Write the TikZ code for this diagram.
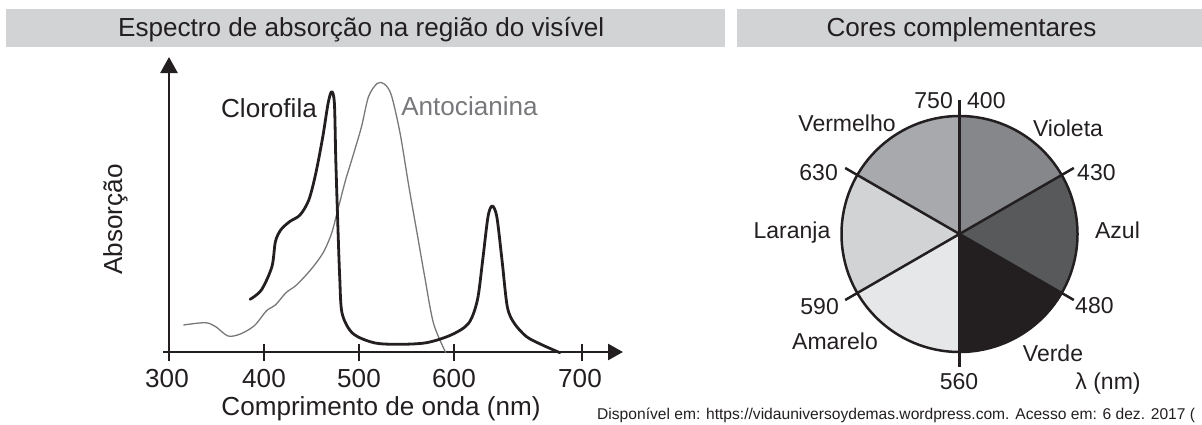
\documentclass[tikz,border=0pt]{standalone}
\usepackage{fontspec}
\setmainfont{Liberation Sans}
\usetikzlibrary{arrows.meta,calc}
\definecolor{ink}{HTML}{231F20}
\definecolor{barc}{HTML}{D1D3D4}
\definecolor{antoc}{HTML}{77787B}
\definecolor{cviol}{HTML}{86878A}
\definecolor{cazul}{HTML}{58595B}
\definecolor{cverde}{HTML}{231F20}
\definecolor{camar}{HTML}{E6E7E8}
\definecolor{clar}{HTML}{D1D3D4}
\definecolor{cverm}{HTML}{A7A9AC}
\tikzset{
  big/.style={font=\fontsize{26.1}{31}\selectfont, text=ink, inner sep=0pt},
  pielab/.style={font=\fontsize{23}{27}\selectfont, text=ink, inner sep=0pt},
  small/.style={font=\fontsize{15.6}{19}\selectfont, text=ink, inner sep=0pt},
  axisline/.style={draw=ink, line width=2.6pt},
  tickline/.style={draw=ink, line width=2.4pt},
  clcurve/.style={draw=ink, line width=2.8pt, line join=round, line cap=round},
  ancurve/.style={draw=antoc, line width=1.3pt, line join=round},
  pieline/.style={draw=ink, line width=2.5pt},
}
\begin{document}
\begin{tikzpicture}[x=1pt,y=-1pt]
\useasboundingbox (0,0) rectangle (1202,424);
% header bars
\fill[barc] (6,9) rectangle (725,47);
\fill[barc] (737,9) rectangle (1202,47);
\node[big, anchor=base west] (h1) at (118,36) {Espectro de absorção na região do visível};
\node[big, anchor=base] (h2) at (961.5,36) {Cores complementares};

% axes
\coordinate (yb) at (169,361);
\coordinate (yt) at (169,57);
\coordinate (xl) at (163,352);
\coordinate (xr) at (623,352);
\draw[axisline, -{Triangle[length=16pt,width=17pt]}] (yb) -- (yt);
\draw[axisline, -{Triangle[length=15pt,width=16pt]}] (xl) -- (xr);
\foreach \x/\n in {264/a,359/b,454/c,582/d}{
  \coordinate (t\n u) at (\x,344);
  \coordinate (t\n d) at (\x,361);
  \draw[tickline] (t\n u) -- (t\n d);
}
\node[big, anchor=base] (l300) at (167,387) {300};
\node[big, anchor=base] (l400) at (264,387) {400};
\node[big, anchor=base] (l500) at (359,387) {500};
\node[big, anchor=base] (l600) at (454,387) {600};
\node[big, anchor=base] (l700) at (580,387) {700};
\node[big, anchor=base] (xlab) at (381,415) {Comprimento de onda (nm)};
\node[big, anchor=base, rotate=90] (ylab) at (122,219.5) {Absorção};

% curves
\draw[ancurve] plot[smooth, tension=0.5] coordinates {
(183.4,325) (205.2,322.7) (215.7,326.7) (228,336) (240.3,334) (254.3,325.7)
(266.6,310.7) (275.4,305) (286,292.7) (296.5,285) (310.5,270) (322.8,253.3)
(331.6,233.3) (338.6,206.7) (345.6,180) (352.7,156.7) (361.5,126.7) (368.5,96.7)
(377.3,83.3) (384.3,84) (391.3,95) (400.1,133.3) (408.9,186.7) (417.7,236.7)
(424.7,276.7) (433.5,323.3) (445.8,352.7)};
\draw[clcurve] plot[smooth, tension=0.5] coordinates {
(250.1,299.3) (261.4,290) (271.9,266.7) (275.4,241.7) (280.7,230) (289.5,221.7)
(300,215) (308.8,200) (315.8,173.3) (322.8,136.7) (328.1,103.3) (331.6,91.7)
(334.4,103.3) (335.8,160) (337.9,226.7) (339.7,276.7) (342.1,313.3) (352.7,333.3)
(373.8,342.7) (398.3,344.3) (426.4,342.7) (451,335) (468.6,323.3) (477.4,300)
(482.7,260) (488,216.7) (492.2,206) (496.8,216.7) (502,260) (507.3,306.7)
(514.3,323.3) (526.6,336.7) (542.4,345) (559.9,352.7)};
\node[big, anchor=base] (clor) at (269,117) {Clorofila};
\node[big, anchor=base, text=antoc] (anto) at (469.5,115) {Antocianina};

% pie
\coordinate (c) at (959.5,234);
\def\R{118}
\fill[cviol]  (c) -- ++(-90:\R) arc[start angle=-90, end angle=-30, radius=\R] -- cycle;
\fill[cazul]  (c) -- ++(-30:\R) arc[start angle=-30, end angle=30, radius=\R] -- cycle;
\fill[cverde] (c) -- ++(30:\R) arc[start angle=30, end angle=90, radius=\R] -- cycle;
\fill[camar]  (c) -- ++(90:\R) arc[start angle=90, end angle=150, radius=\R] -- cycle;
\fill[clar]   (c) -- ++(150:\R) arc[start angle=150, end angle=210, radius=\R] -- cycle;
\fill[cverm]  (c) -- ++(210:\R) arc[start angle=210, end angle=270, radius=\R] -- cycle;
\draw[pieline] (c) circle[radius=\R];
\coordinate (e90)  at ($(c)+(-90:134)$);
\coordinate (e270) at ($(c)+(90:133)$);
\coordinate (e30)  at ($(c)+(-30:132)$);
\coordinate (e210) at ($(c)+(150:132)$);
\coordinate (e150) at ($(c)+(-150:132)$);
\coordinate (e330) at ($(c)+(30:132)$);
\draw[pieline] (e90) -- (e270);
\draw[pieline] (e30) -- (e210);
\draw[pieline] (e150) -- (e330);

% pie labels
\node[pielab, anchor=base east] (n750) at (953,108) {750};
\node[pielab, anchor=base west] (n400) at (967,108) {400};
\node[pielab, anchor=base] (verm) at (847,131.5) {Vermelho};
\node[pielab, anchor=base] (viol) at (1068,136) {Violeta};
\node[pielab, anchor=base east] (n630) at (838,180.5) {630};
\node[pielab, anchor=base west] (n430) at (1077,180) {430};
\node[pielab, anchor=base] (lara) at (792,238) {Laranja};
\node[pielab, anchor=base] (azul) at (1117.5,238) {Azul};
\node[pielab, anchor=base east] (n590) at (839,314) {590};
\node[pielab, anchor=base west] (n480) at (1075,313.5) {480};
\node[pielab, anchor=base] (amar) at (835,349) {Amarelo};
\node[pielab, anchor=base] (verd) at (1053,361.5) {Verde};
\node[pielab, anchor=base] (n560) at (959,389) {560};
\node[pielab, anchor=base] (lamb) at (1108,389) {λ (nm)};

% source
\node[small, anchor=base west] (src) at (597,419) {Disponível em: https://vidauniversoydemas.wordpress.com. Acesso em: 6 dez. 2017 (};
\end{tikzpicture}
\end{document}
